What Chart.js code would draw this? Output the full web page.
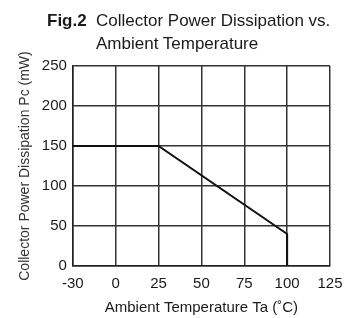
<!DOCTYPE html>
<html>
<head>
    <meta charset="UTF-8">
    <title>Fig.2 Collector Power Dissipation</title>
    <script src="https://cdn.jsdelivr.net/npm/chart.js"></script>
    <style>
        body { margin: 0; background: #fff; font-family: "Liberation Sans", Arial, sans-serif; }
        #wrap { position: relative; width: 347px; height: 318px; }
        #title { position: absolute; left: 47px; top: 9px; font-size: 17px; line-height: 23px; color: #1a1a1a; white-space: nowrap; }
        #title b { display: inline-block; width: 49px; }
        #title .l2 { padding-left: 49px; }
    </style>
</head>
<body>
    <div id="wrap">
        <canvas id="chart" width="347" height="318"></canvas>
        <div id="title"><b>Fig.2</b>Collector Power Dissipation vs.<div class="l2">Ambient Temperature</div></div>
    </div>

    <script>
        // tick labels on the temperature axis (evenly spaced in the figure)
        var tempLabels = ['-30', '0', '25', '50', '75', '100', '125'];
        // derating curve
        var curveTemps = ['-30', '25', '100', '100'];
        var curvePower = [150, 150, 40, 0];
        var powerTicks = [0, 50, 100, 150, 200, 250];

        var points = curveTemps.map(function(t, i) {
            return { x: t, y: curvePower[i] };
        });

        var ctx = document.getElementById('chart').getContext('2d');
        var chart = new Chart(ctx, {
            type: 'line',
            data: {
                labels: tempLabels,
                datasets: [{
                    label: 'Pc',
                    data: points,
                    borderColor: '#111',
                    borderWidth: 2,
                    pointRadius: 0,
                    fill: false,
                    tension: 0
                }]
            },
            options: {
                responsive: false,
                animation: false,
                layout: { padding: { top: 66, right: 17, left: 17, bottom: 1 } },
                plugins: {
                    legend: { display: false },
                    tooltip: { enabled: false }
                },
                scales: {
                    x: {
                        type: 'category',
                        offset: false,
                        afterFit: function(scale) {
                            // label overhang on the right is covered by the layout padding
                            scale.paddingRight = 0;
                        },
                        grid: { color: '#333', lineWidth: 1.5, drawTicks: false },
                        border: { color: '#222', width: 1.5 },
                        ticks: { color: '#1a1a1a', font: { size: 15, family: 'Liberation Sans' }, padding: 9, maxRotation: 0, autoSkip: false },
                        title: {
                            display: true,
                            text: 'Ambient Temperature Ta (˚C)',
                            color: '#1a1a1a',
                            font: { size: 15, family: 'Liberation Sans' },
                            padding: { top: -3, bottom: 0 }
                        }
                    },
                    y: {
                        min: powerTicks[0],
                        max: powerTicks[powerTicks.length - 1],
                        afterBuildTicks: function(axis) {
                            axis.ticks = powerTicks.map(function(v) { return { value: v }; });
                        },
                        grid: { color: '#333', lineWidth: 1.5, drawTicks: false },
                        border: { color: '#222', width: 1.5 },
                        ticks: { color: '#1a1a1a', font: { size: 15, family: 'Liberation Sans' }, padding: 6 },
                        title: {
                            display: true,
                            text: 'Collector Power Dissipation Pc (mW)',
                            color: '#333',
                            font: { size: 14, family: 'Liberation Sans' },
                            padding: { top: 0, bottom: 2 }
                        }
                    }
                }
            }
        });
    </script>
</body>
</html>
